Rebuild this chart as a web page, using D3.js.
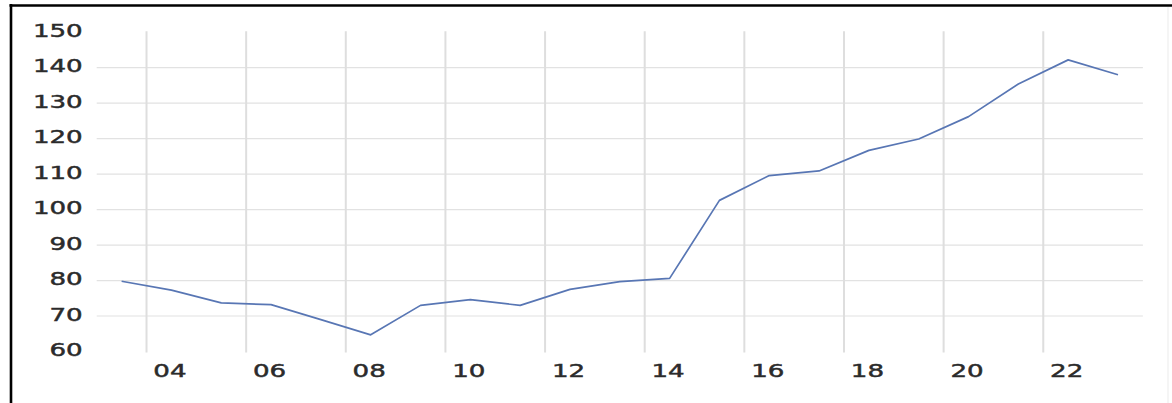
<!DOCTYPE html>
<html>
<head>
<meta charset="utf-8">
<script src="https://cdn.jsdelivr.net/npm/d3@7"></script>
<style>
  html, body { margin: 0; padding: 0; background: #fff; }
  svg { display: block; }
</style>
</head>
<body>
<svg id="chart" width="1172" height="403"></svg>
<script>
// Annual index values, one point per year
const years  = [2003, 2004, 2005, 2006, 2007, 2008, 2009, 2010, 2011, 2012, 2013,
                2014, 2015, 2016, 2017, 2018, 2019, 2020, 2021, 2022, 2023];
const values = [79.8, 77.3, 73.7, 73.2, 69.0, 64.7, 73.0, 74.6, 73.0, 77.5, 79.7,
                80.6, 102.6, 109.6, 110.9, 116.7, 119.9, 126.2, 135.4, 142.2, 138.0];

// Axis ticks
const xTickYears  = [2004, 2006, 2008, 2010, 2012, 2014, 2016, 2018, 2020, 2022];
const xTickLabels = ["04", "06", "08", "10", "12", "14", "16", "18", "20", "22"];
const yTicks      = [60, 70, 80, 90, 100, 110, 120, 130, 140, 150];
const yGridTicks  = [70, 80, 90, 100, 110, 120, 130, 140];

const svg = d3.select("#chart");
const plot = { left: 96.7, right: 1142.9, top: 32.2, bottom: 351.5 };

// Year categories laid out as equal bands; points sit at band centres
const x = d3.scaleBand().domain(years).range([plot.left, plot.right]).padding(0);
const cx = yr => x(yr) + x.bandwidth() / 2;
const y = d3.scaleLinear().domain([60, 150]).range([plot.bottom, plot.top]);

const textColor = "#2b2b2b";
const stretch = 1.5;

// Frame lines
svg.append("line").attr("x1", 9.5).attr("x2", 1172).attr("y1", 5.5).attr("y2", 5.5)
  .attr("stroke", "#000").attr("stroke-width", 2.6);
svg.append("line").attr("x1", 11).attr("x2", 11).attr("y1", 4).attr("y2", 403)
  .attr("stroke", "#000").attr("stroke-width", 2.6);
svg.append("line").attr("x1", 1168).attr("x2", 1168).attr("y1", 7).attr("y2", 403)
  .attr("stroke", "#f2f2f2").attr("stroke-width", 1.5);

// Horizontal gridlines
svg.append("g")
  .selectAll("line")
  .data(yGridTicks)
  .join("line")
  .attr("x1", plot.left).attr("x2", plot.right)
  .attr("y1", d => y(d)).attr("y2", d => y(d))
  .attr("stroke", "#e2e2e2").attr("stroke-width", 1.2);

// Vertical gridlines at the start of every second year
svg.append("g")
  .selectAll("line")
  .data(xTickYears)
  .join("line")
  .attr("x1", d => x(d)).attr("x2", d => x(d))
  .attr("y1", y(150) - 1).attr("y2", y(60) + 1)
  .attr("stroke", "#dedede").attr("stroke-width", 2);

// Shared label styling
function styleLabel(sel) {
  return sel
    .attr("font-family", "DejaVu Sans, Verdana, sans-serif")
    .attr("font-size", 17.4)
    .attr("fill", textColor)
    .attr("stroke", textColor)
    .attr("stroke-width", 0.45);
}

// Y axis labels
svg.append("g")
  .selectAll("text")
  .data(yTicks)
  .join("text")
  .attr("transform", d => `translate(${plot.left - 14},${y(d) + 4.8}) scale(${stretch},1)`)
  .attr("text-anchor", "end")
  .call(styleLabel)
  .text(d => d);

// X axis labels, centred on their year
svg.append("g")
  .selectAll("text")
  .data(xTickYears)
  .join("text")
  .attr("transform", d => `translate(${cx(d) - 1.5},${377}) scale(${stretch},1)`)
  .attr("text-anchor", "middle")
  .call(styleLabel)
  .text((d, i) => xTickLabels[i]);

// Series line
const line = d3.line()
  .x((d, i) => cx(years[i]))
  .y(d => y(d));

svg.append("path")
  .datum(values)
  .attr("d", line)
  .attr("fill", "none")
  .attr("stroke", "#5876b4")
  .attr("stroke-width", 1.7)
  .attr("stroke-linejoin", "round");
</script>
</body>
</html>
